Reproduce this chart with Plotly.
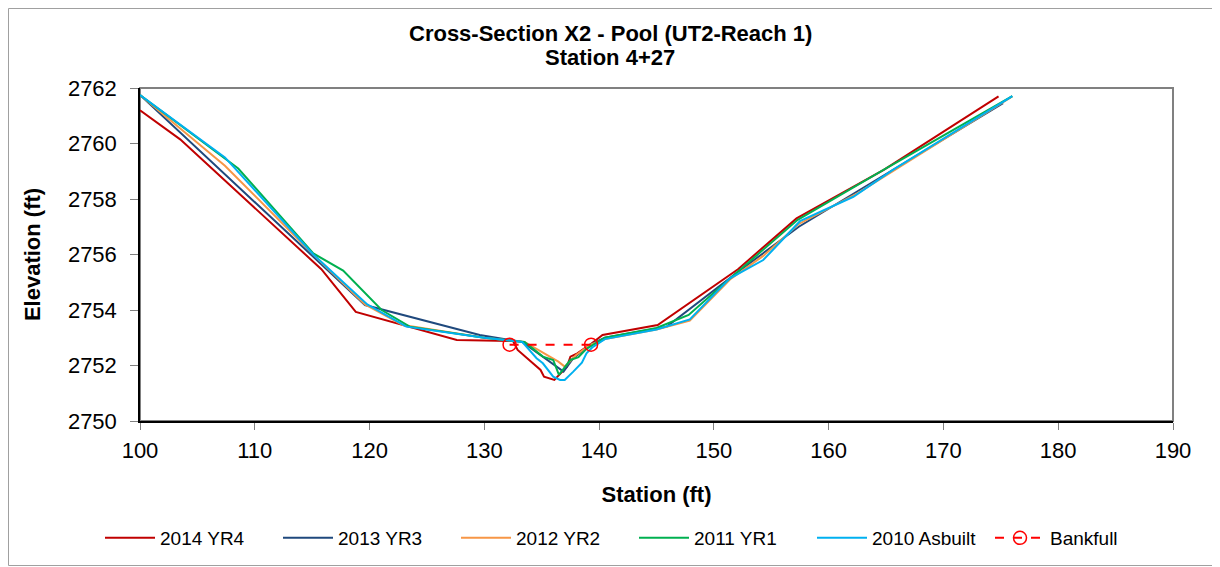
import plotly.graph_objects as go

# ---- data ----
x_2014 = [100, 103.5, 115.8, 118.8, 127.6, 132.5, 132.9, 134.9, 135.2, 136.1, 137.2, 137.5, 138.1, 139.2, 140.3, 145.1, 152.1, 157.2, 164.8, 174.8]
y_2014 = [2761.2, 2760.15, 2755.47, 2753.93, 2752.92, 2752.88, 2752.56, 2751.84, 2751.6, 2751.48, 2751.96, 2752.32, 2752.44, 2752.75, 2753.1, 2753.46, 2755.47, 2757.3, 2759.05, 2761.7]

x_2013 = [100, 119.6, 129.6, 133.3, 136.9, 137.75, 139.2, 140.5, 145.9, 152.0, 157.4, 175.2]
y_2013 = [2761.75, 2754.18, 2753.1, 2752.85, 2751.78, 2752.26, 2752.74, 2753.0, 2753.4, 2755.34, 2757.0, 2761.45]

x_2012 = [100, 107.4, 115.1, 119.6, 122.9, 130, 133.5, 136.45, 137.0, 138.0, 139.2, 140.5, 145, 147.9, 151.4, 154.3, 157.4, 162.5, 176.0]
y_2012 = [2761.75, 2759.2, 2756.0, 2754.2, 2753.46, 2753.0, 2752.85, 2752.14, 2751.96, 2752.38, 2752.74, 2752.95, 2753.3, 2753.62, 2755.1, 2755.95, 2757.1, 2758.2, 2761.7]

x_2011 = [100, 108.56, 115.1, 117.7, 121.05, 123.5, 130, 133.5, 134.0, 135.1, 136.0, 136.5, 137.5, 138.2, 138.9, 140.5, 145, 147.8, 151.25, 157.3, 165.0, 176.0]
y_2011 = [2761.75, 2759.1, 2756.04, 2755.42, 2754.0, 2753.4, 2753.0, 2752.85, 2752.68, 2752.32, 2752.2, 2751.66, 2752.2, 2752.3, 2752.6, 2753.0, 2753.35, 2753.82, 2755.08, 2757.25, 2759.1, 2761.71]

x_2010 = [100, 107.4, 115.1, 119.8, 123.2, 130, 133.3, 134.55, 135.1, 136.0, 136.6, 137.0, 137.75, 138.5, 138.9, 139.4, 140.5, 145, 147.9, 151.4, 154.3, 157.5, 162.15, 165.6, 176.0]
y_2010 = [2761.75, 2759.5, 2756.0, 2754.2, 2753.4, 2753.0, 2752.85, 2752.26, 2752.08, 2751.6, 2751.48, 2751.48, 2751.78, 2752.1, 2752.44, 2752.65, 2752.95, 2753.3, 2753.66, 2755.14, 2755.8, 2757.2, 2758.08, 2759.05, 2761.71]

x_bankfull = [132.2, 139.3]
y_bankfull = [2752.75, 2752.75]

names = ["2014 YR4", "2013 YR3", "2012 YR2", "2011 YR1", "2010 Asbuilt"]
colors = ["#C00000", "#1F497D", "#F79646", "#00B050", "#00B0F0"]
series_x = [x_2014, x_2013, x_2012, x_2011, x_2010]
series_y = [y_2014, y_2013, y_2012, y_2011, y_2010]

x_ticks = [100, 110, 120, 130, 140, 150, 160, 170, 180, 190]
y_ticks = [2750, 2752, 2754, 2756, 2758, 2760, 2762]

title_line1 = "Cross-Section X2 - Pool (UT2-Reach 1)"
title_line2 = "Station 4+27"

FONT = "Liberation Sans, Arial, sans-serif"

fig = go.Figure()
for xs, ys, nm, c in zip(series_x, series_y, names, colors):
    fig.add_trace(go.Scatter(x=xs, y=ys, name=nm, mode="lines",
                             line=dict(color=c, width=2)))
fig.add_trace(go.Scatter(x=x_bankfull, y=y_bankfull, name="Bankfull",
                         mode="lines+markers",
                         line=dict(color="#FF0000", width=2, dash="dash"),
                         marker=dict(symbol="circle-open", size=13,
                                     color="#FF0000", line=dict(width=1.5))))

# the page body adds an 8px offset, so the figure is 8px smaller
W, H = 1212, 559
L, R, T, B = 132, 47, 80, 146
pw, ph = W - L - R, H - T - B


def py(pix):
    """figure pixel row -> paper y"""
    return (H - B - pix) / ph


def px(pix):
    return (pix - L) / pw


fig.update_layout(
    width=W, height=H,
    margin=dict(l=L, r=R, t=T, b=B, autoexpand=False),
    paper_bgcolor="white", plot_bgcolor="white",
    font=dict(family=FONT, color="black"),
    xaxis=dict(range=[100, 190], tickvals=x_ticks, ticks="outside", ticklen=7,
               tickcolor="#808080", showline=True, linecolor="black", linewidth=1.5,
               showgrid=False, zeroline=False, tickfont=dict(size=22),
               automargin=False, ticklabelstandoff=2,
               title=dict(text="<b>Station (ft)</b>", font=dict(size=22), standoff=24)),
    yaxis=dict(range=[2750, 2762], tickvals=y_ticks, ticks="outside", ticklen=8,
               tickcolor="#808080", showline=True, linecolor="black", linewidth=1.5,
               showgrid=False, zeroline=False, tickfont=dict(size=22),
               automargin=False, ticklabelstandoff=9,
               title=dict(text="<b>Elevation (ft)</b>", font=dict(size=22), standoff=21)),
    legend=dict(orientation="h", x=px(92), xanchor="left",
                y=py(530), yanchor="middle",
                font=dict(size=19, family=FONT),
                itemwidth=50,
                entrywidth=113, entrywidthmode="pixels",
                bgcolor="rgba(0,0,0,0)"),
    showlegend=True,
)

fig.add_annotation(text="<b>" + title_line1 + "</b>", xref="paper", yref="paper",
                   x=px(602), y=py(25), xanchor="center", yanchor="middle",
                   showarrow=False, font=dict(size=22, family=FONT))
fig.add_annotation(text="<b>" + title_line2 + "</b>", xref="paper", yref="paper",
                   x=px(602), y=py(49), xanchor="center", yanchor="middle",
                   showarrow=False, font=dict(size=22, family=FONT))

# plot-area frame (gray) and chart outer border
fig.add_shape(type="rect", xref="paper", yref="paper", x0=0, x1=1, y0=0, y1=1,
              line=dict(color="#808080", width=2), layer="below")
fig.add_shape(type="rect", xref="paper", yref="paper",
              x0=px(0.5), x1=px(W - 1.5), y0=py(H - 1.5), y1=py(0.5),
              line=dict(color="#A0A0A0", width=1), layer="below")

fig.write_html("out.html")
